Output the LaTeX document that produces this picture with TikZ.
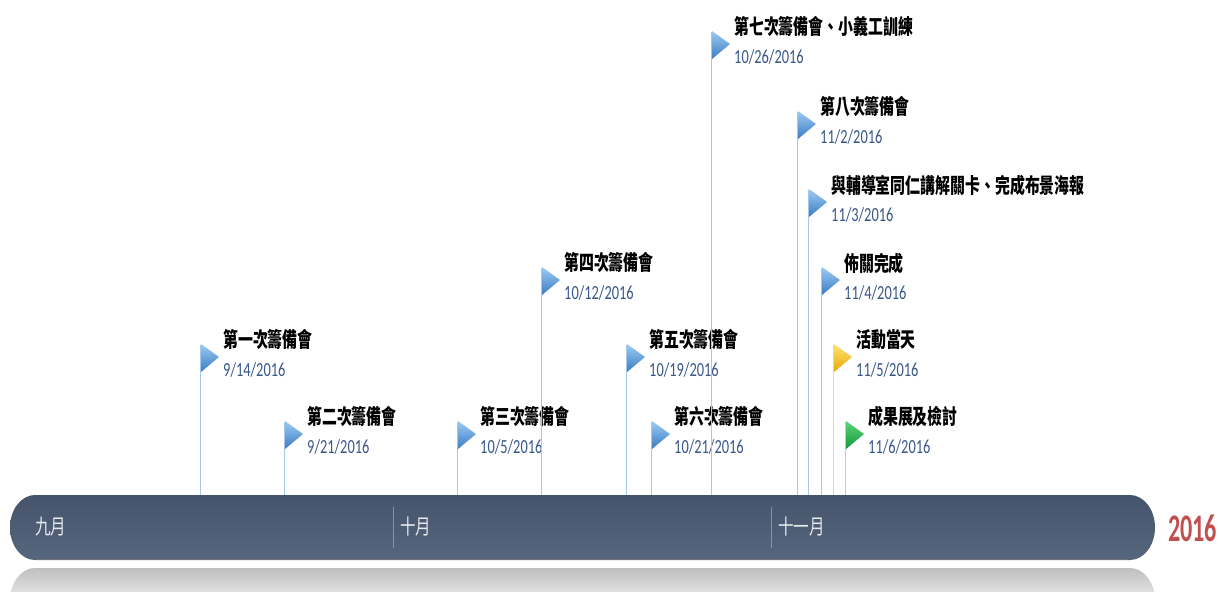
\documentclass[tikz,border=0pt]{standalone}
\usepackage{fontspec}
\newfontfamily\cjk[FakeStretch=0.71]{Noto Sans CJK TC}
\newfontfamily\cjkm[FakeStretch=0.74]{Noto Sans CJK TC}
\newfontfamily\datef[FakeStretch=0.72]{Carlito}
\newfontfamily\yearf[FakeStretch=0.62]{Carlito}
\definecolor{barTop}{HTML}{45546A}
\definecolor{barBot}{HTML}{56667D}
\definecolor{dateC}{HTML}{38578A}
\definecolor{yearC}{HTML}{C0504D}
\definecolor{lineB}{HTML}{A3C8EA}
\definecolor{lineY}{HTML}{FFD966}
\definecolor{lineG}{HTML}{A8DDB0}
\definecolor{monthC}{HTML}{E8EAEE}
\definecolor{sepC}{HTML}{8792A3}
\definecolor{HTMLb1}{HTML}{9CCBF2}
\definecolor{HTMLb2}{HTML}{3A7CC4}
\definecolor{HTMLy1}{HTML}{FFE27A}
\definecolor{HTMLy2}{HTML}{E8A800}
\definecolor{HTMLg1}{HTML}{5ED37A}
\definecolor{HTMLg2}{HTML}{109A3A}
\tikzset{
  x=1pt, y=-1pt,
  titlenode/.style={anchor=west, inner sep=0pt, font=\cjk\bfseries\fontsize{21}{21}\selectfont, text=black},
  datenode/.style={anchor=west, inner sep=0pt, font=\datef\fontsize{20}{20}\selectfont, text=dateC},
  monthnode/.style={anchor=west, inner sep=0pt, font=\cjkm\fontsize{21}{21}\selectfont, text=monthC},
  connb/.style={draw=lineB, line width=1pt},
  conny/.style={draw=lineY, line width=1pt},
  conng/.style={draw=lineG, line width=1pt},
  flagb/.style={top color=HTMLb1, bottom color=HTMLb2},
  flagy/.style={top color=HTMLy1, bottom color=HTMLy2},
  flagg/.style={top color=HTMLg1, bottom color=HTMLg2},
}
\begin{document}
\begin{tikzpicture}
\useasboundingbox (0,0) rectangle (1219,592);
\foreach \x/\ty/\t/\m/\d/\k [count=\i] in {
  200/340/第一次籌備會/9/14/b,
  284/417/第二次籌備會/9/21/b,
  457/417/第三次籌備會/10/5/b,
  541/263/第四次籌備會/10/12/b,
  626/340/第五次籌備會/10/19/b,
  651/417/第六次籌備會/10/21/b,
  711/27/第七次籌備會、小義工訓練/10/26/b,
  797/107/第八次籌備會/11/2/b,
  808/185/與輔導室同仁講解關卡、完成布景海報/11/3/b,
  821/263/佈關完成/11/4/b,
  833/340/活動當天/11/5/y,
  845/417/成果展及檢討/11/6/g}{
  \coordinate (top\i) at (\x,\ty+5);
  \coordinate (base\i) at (\x,496);
  \draw[conn\k] (top\i) -- (base\i);
  \shade[flag\k] (\x+1,\ty+4) -- (\x+19,\ty+17) -- (\x+1,\ty+32) -- cycle;
  \node[titlenode] (t\i) at (\x+23,\ty) {\t};
  \node[datenode] (d\i) at (\x+23,\ty+30) {\m/\d/2016};
}
% reflection
\begin{scope}
  \clip (0,565) rectangle (1219,592);
  \shade[top color=black!25, bottom color=white, middle color=black!8]
    (35,568) -- (1130,568) arc[start angle=-90, end angle=90, x radius=25, y radius=32.5]
    -- (35,633) arc[start angle=90, end angle=270, x radius=25, y radius=32.5] -- cycle;
\end{scope}
% bar
\shade[top color=barTop, bottom color=barBot]
  (35,495) -- (1130,495) arc[start angle=-90, end angle=90, x radius=25, y radius=32.5]
  -- (35,560) arc[start angle=90, end angle=270, x radius=25, y radius=32.5] -- cycle;
\draw[black!55, line width=1pt] (37,559.5) -- (1128,559.5);
% separators
\coordinate (s1a) at (393,507); \coordinate (s1b) at (393,548);
\coordinate (s2a) at (771,507); \coordinate (s2b) at (771,548);
\draw[sepC, line width=0.8pt] (s1a) -- (s1b);
\draw[sepC, line width=0.8pt] (s2a) -- (s2b);
% months
\node[monthnode] (m9) at (35,527) {九月};
\node[monthnode] (m10) at (400,527) {十月};
\node[monthnode] (m11) at (778,527) {十一月};
\node[anchor=west, inner sep=0pt, font=\yearf\bfseries\fontsize{39}{39}\selectfont, text=yearC] (yr) at (1168,528) {2016};
\end{tikzpicture}
\end{document}
